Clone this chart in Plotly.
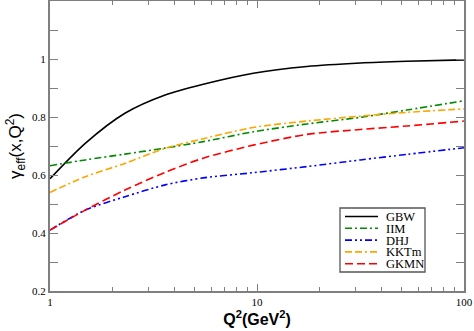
import plotly.graph_objects as go

# Q^2 sample points (GeV^2)
q2 = [1, 1.48, 2.3, 3.6, 5.5, 9.6, 17.4, 31.6, 52.9, 100]

gbw = [0.587, 0.709, 0.813, 0.876, 0.913, 0.951, 0.974, 0.986, 0.992, 0.997]
iim = [0.632, 0.652, 0.672, 0.693, 0.715, 0.749, 0.776, 0.799, 0.824, 0.856]
dhj = [0.410, 0.479, 0.525, 0.566, 0.590, 0.608, 0.629, 0.652, 0.671, 0.694]
kktm = [0.540, 0.594, 0.640, 0.692, 0.725, 0.764, 0.786, 0.803, 0.816, 0.828]
gkmn = [0.410, 0.479, 0.548, 0.609, 0.658, 0.703, 0.740, 0.757, 0.769, 0.786]

y_ticks = [0.2, 0.4, 0.6, 0.8, 1.0]
y_labels = ["0.2", "0.4", "0.6", "0.8", "1"]
x_ticks = [1, 10, 100]
x_labels = ["1", "10", "100"]
x_minor = [2, 3, 4, 5, 6, 7, 8, 9, 20, 30, 40, 50, 60, 70, 80, 90]

series = [
    ("GBW", gbw, "black", "solid"),
    ("IIM", iim, "#008a00", "7px,3px,2px,3px"),
    ("DHJ", dhj, "#0000ff", "7px,3px,2px,3px,2px,3px"),
    ("KKTm", kktm, "#ffa500", "7px,3px,7px,3px,2px,3px"),
    ("GKMN", gkmn, "#ff0000", "8px,4px"),
]

fig = go.Figure()
for name, vals, col, dash in series:
    fig.add_trace(go.Scatter(
        x=q2, y=vals, name=name, mode="lines", showlegend=False,
        line=dict(color=col, width=1.6, dash=dash, shape="spline", smoothing=0.8),
    ))

# legend box drawn by hand (plotly's own legend rows are too tall here)
W, H = 414, 290  # plot area in px
lx0, lx1, ly0, ly1 = 290 / W, 375 / W, 19 / H, 83 / H
fig.add_shape(type="rect", xref="paper", yref="paper", x0=lx0, x1=lx1, y0=ly0, y1=ly1,
              line=dict(color="#555555", width=1.3), fillcolor="white", layer="above")
for i, (name, vals, col, dash) in enumerate(series):
    yy = (74.5 - i * 11.8) / H
    fig.add_shape(type="line", xref="paper", yref="paper",
                  x0=295 / W, x1=328 / W, y0=yy, y1=yy, layer="above",
                  line=dict(color=col, width=1.6, dash=dash))
    fig.add_annotation(xref="paper", yref="paper", x=335 / W, y=yy - 0.5 / H,
                       text=name, showarrow=False, xanchor="left", yanchor="middle",
                       borderpad=0,
                       font=dict(family="Liberation Serif", size=12.5, color="black"))

axis_gray = "#7f7f7f"
fig.update_layout(
    width=474, height=331,
    margin=dict(l=50, r=10, t=1, b=40, autoexpand=False),
    paper_bgcolor="white", plot_bgcolor="white",
    showlegend=False,
    xaxis=dict(
        type="log", range=[0, 2], automargin=False,
        tickvals=x_ticks, ticktext=x_labels,
        ticks="inside", ticklen=7, tickwidth=1, tickcolor=axis_gray,
        minor=dict(tickvals=x_minor, ticks="inside", ticklen=4, tickcolor=axis_gray),
        showline=True, linecolor=axis_gray, linewidth=2, mirror="ticks",
        showgrid=False, zeroline=False,
        tickfont=dict(family="Liberation Serif", size=11, color="black"),
        title=dict(text="<b>Q<sup>2</sup>(GeV<sup>2</sup>)</b>", standoff=6,
                   font=dict(family="Liberation Sans", size=16, color="black")),
    ),
    yaxis=dict(
        range=[0.2, 1.2], automargin=False,
        tickvals=y_ticks, ticktext=y_labels,
        ticks="inside", ticklen=8, tickwidth=1, tickcolor=axis_gray,
        minor=dict(dtick=0.1, ticks="inside", ticklen=8, tickcolor=axis_gray),
        showline=True, linecolor=axis_gray, linewidth=2, mirror="ticks",
        showgrid=False, zeroline=False,
        tickfont=dict(family="Liberation Serif", size=11, color="black"),
        title=dict(text="γ<sub>eff</sub>(x,Q<sup>2</sup>)", standoff=6,
                   font=dict(family="Liberation Sans", size=17, color="black")),
    ),
)

fig.write_html("out.html", config={"displayModeBar": False},
               post_script="document.body.style.margin='0';")
